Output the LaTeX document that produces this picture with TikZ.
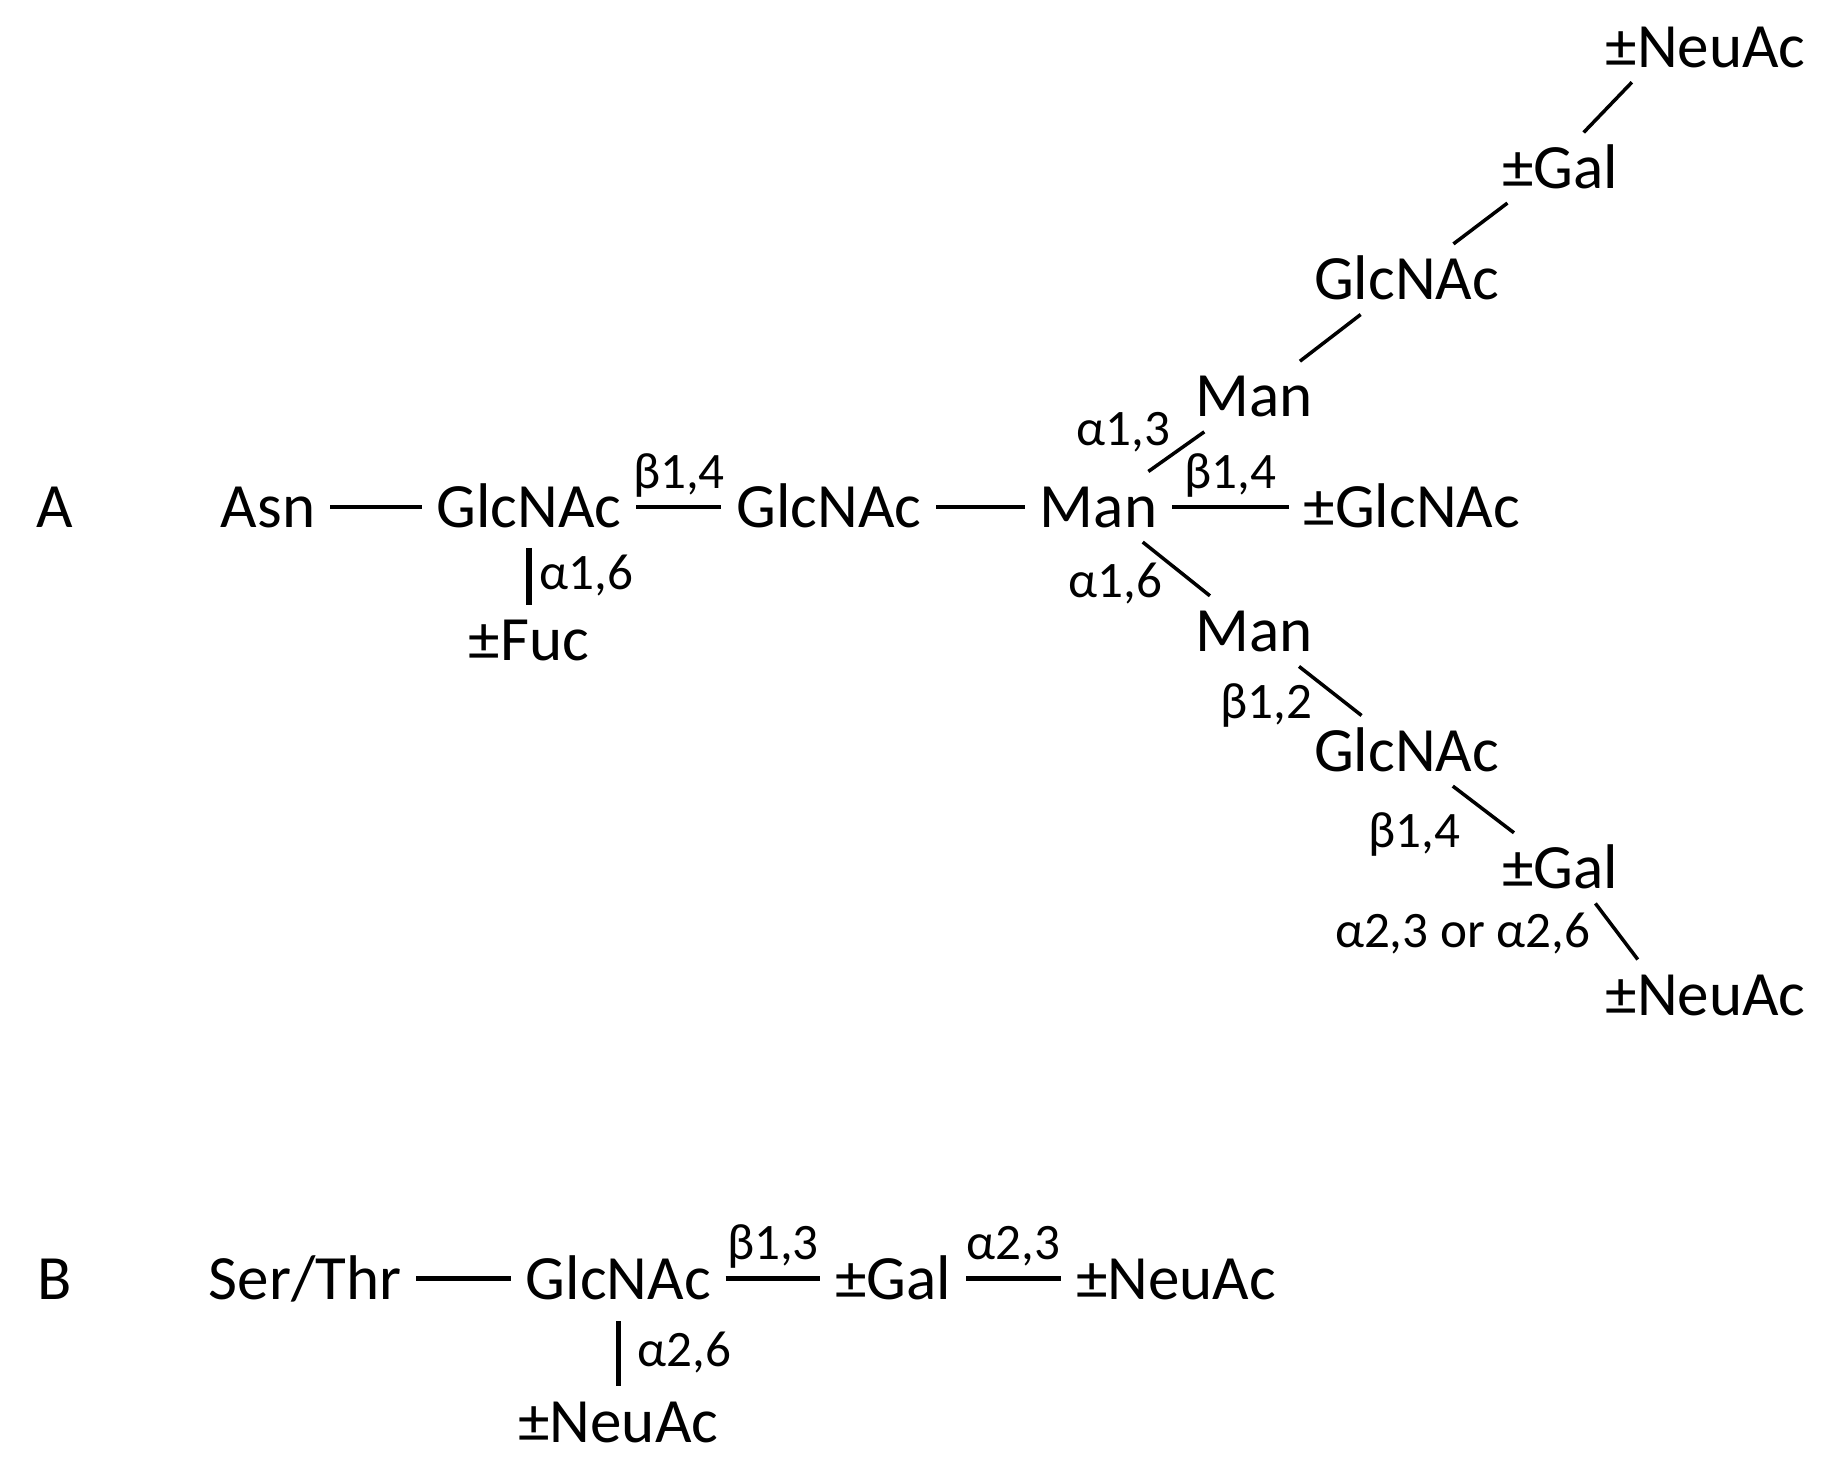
\documentclass[tikz,border=0pt]{standalone}
\usepackage{fontspec}
\setmainfont{Carlito}
\begin{document}
\begin{tikzpicture}[
  sugar/.style={font=\fontsize{15.3}{18}\selectfont, inner sep=1.2mm, text height=9.9pt, text depth=0pt},
  link/.style={font=\fontsize{12.4}{14}\selectfont, inner sep=1pt, text height=7.8pt, text depth=0pt},
  bond/.style={line width=1.1pt},
  slant/.style={line width=0.85pt}]
\useasboundingbox (0,0) rectangle (15.6,-12.55);
%%%%%%%%%%%%% A
\node[sugar] (labA) at (0.465,-4.32) {A};
\node[sugar] (asn) at (2.285,-4.32) {Asn};
\node[sugar] (glcA1) at (4.51,-4.32) {GlcNAc};
\node[sugar] (glcA2) at (7.065,-4.32) {GlcNAc};
\node[sugar] (manA) at (9.365,-4.32) {Man};
\node[sugar] (glcbis) at (12.035,-4.32) {±GlcNAc};
\node[sugar] (fuc) at (4.51,-5.46) {±Fuc};
\node[sugar] (man3) at (10.69,-3.38) {Man};
\node[sugar] (glc3) at (11.99,-2.38) {GlcNAc};
\node[sugar] (gal3) at (13.30,-1.43) {±Gal};
\node[sugar] (neu3) at (14.54,-0.40) {±NeuAc};
\node[sugar] (man6) at (10.69,-5.38) {Man};
\node[sugar] (glc6) at (11.99,-6.40) {GlcNAc};
\node[sugar] (gal6) at (13.30,-7.40) {±Gal};
\node[sugar] (neu6) at (14.54,-8.48) {±NeuAc};
%%%%%%%%%%%%%
\draw[bond] (asn) -- (glcA1);
\draw[bond] (glcA1) -- node[link, midway, above=3pt] {β1,4} (glcA2);
\draw[bond] (glcA2) -- (manA);
\draw[bond] (manA) -- node[link, midway, above=3pt] {β1,4} (glcbis);
\draw[bond, line width=1.3pt, shorten <=0.5mm] (glcA1) -- node[link, midway, right=1pt] {α1,6} (fuc);
\draw[slant] (manA) -- node[link, midway, above left] {α1,3} (man3);
\draw[slant] (man3) -- (glc3);
\draw[slant] ([xshift=4mm]glc3.north) -- ([xshift=-4.5mm]gal3.south);
\draw[slant] ([xshift=2mm]gal3.north) -- ([xshift=3.5mm]neu3.south west);
\draw[slant] (manA) -- node[link, midway, left=2pt, yshift=-1.1mm] {α1,6} (man6);
\draw[slant] (man6) -- node[link, midway, left=3pt, yshift=-1mm] {β1,2} (glc6);
\draw[slant] (glc6) -- node[link, midway, below left, xshift=-1.5mm] {β1,4} (gal6);
\draw[slant] ([xshift=3mm]gal6.south) -- node[link, midway, left=5pt] {α2,3 or α2,6} ([xshift=4mm]neu6.north west);
%%%%%%%%%%%%% B
\node[sugar] (labB) at (0.465,-10.90) {B};
\node[sugar] (ser) at (2.60,-10.90) {Ser/Thr};
\node[sugar] (glcB) at (5.27,-10.90) {GlcNAc};
\node[sugar] (galB) at (7.615,-10.90) {±Gal};
\node[sugar] (neuB) at (10.025,-10.90) {±NeuAc};
\node[sugar] (neuB2) at (5.27,-12.12) {±NeuAc};
%%%%%%%%%%%%%
\draw[bond] (ser) -- (glcB);
\draw[bond] (glcB) -- node[link, midway, above=3pt] {β1,3} (galB);
\draw[bond] (galB) -- node[link, midway, above=3pt] {α2,3} (neuB);
\draw[bond, line width=1.3pt, shorten <=0.6mm] (glcB) -- node[link, midway, right=3pt] {α2,6} (neuB2);
\end{tikzpicture}
\end{document}
